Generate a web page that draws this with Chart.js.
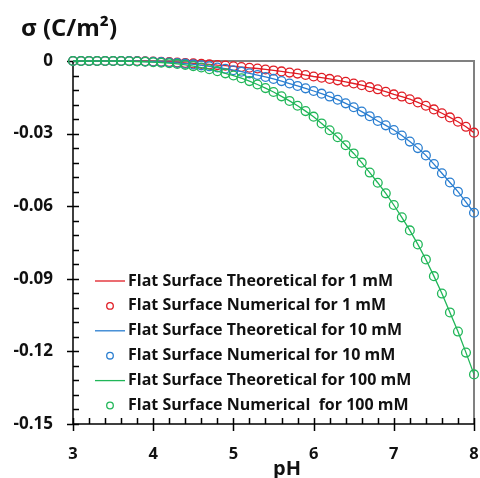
<!DOCTYPE html>
<html>
<head>
<meta charset="utf-8">
<script src="https://cdn.jsdelivr.net/npm/chart.js@4.4.0/dist/chart.umd.min.js"></script>
<style>
  html, body { margin: 0; padding: 0; background: #fff; }
</style>
</head>
<body>
<canvas id="sigmaChart" width="480" height="478"></canvas>
<script>
// pH values (x)
const pH = [
  3.0, 3.1, 3.2, 3.3, 3.4, 3.5, 3.6, 3.7, 3.8, 3.9,
  4.0, 4.1, 4.2, 4.3, 4.4, 4.5, 4.6, 4.7, 4.8, 4.9,
  5.0, 5.1, 5.2, 5.3, 5.4, 5.5, 5.6, 5.7, 5.8, 5.9,
  6.0, 6.1, 6.2, 6.3, 6.4, 6.5, 6.6, 6.7, 6.8, 6.9,
  7.0, 7.1, 7.2, 7.3, 7.4, 7.5, 7.6, 7.7, 7.8, 7.9,
  8.0
];

// surface charge density sigma (C/m2)
const sigma1mM = [
  0, 0, 0, 0, 0, 0, 0, 0, 0, -0.0001,
  -0.0002, -0.0003, -0.0004, -0.0006, -0.0008, -0.0010, -0.0012, -0.0014, -0.0017, -0.0019,
  -0.0022, -0.0025, -0.0028, -0.0031, -0.0035, -0.0039, -0.0043, -0.0048, -0.0052, -0.0058,
  -0.0064, -0.0069, -0.0074, -0.0080, -0.0086, -0.0093, -0.0100, -0.0108, -0.0117, -0.0127,
  -0.0138, -0.0147, -0.0158, -0.0171, -0.0185, -0.0200, -0.0216, -0.0233, -0.0251, -0.0272,
  -0.0296
];
const sigma10mM = [
  0, 0, 0, 0, 0, 0, 0, 0, -0.0001, -0.0002,
  -0.0003, -0.0004, -0.0006, -0.0008, -0.0011, -0.0014, -0.0018, -0.0022, -0.0027, -0.0032,
  -0.0038, -0.0044, -0.0051, -0.0058, -0.0066, -0.0074, -0.0083, -0.0093, -0.0103, -0.0113,
  -0.0124, -0.0135, -0.0147, -0.0160, -0.0175, -0.0191, -0.0209, -0.0228, -0.0248, -0.0266,
  -0.0285, -0.0308, -0.0333, -0.0360, -0.0390, -0.0426, -0.0464, -0.0502, -0.0540, -0.0583,
  -0.0627
];
const sigma100mM = [
  0, 0, 0, 0, 0, 0, 0, -0.0001, -0.0002, -0.0003,
  -0.0005, -0.0007, -0.0009, -0.0012, -0.0016, -0.0021, -0.0027, -0.0034, -0.0042, -0.0051,
  -0.0060, -0.0071, -0.0083, -0.0097, -0.0112, -0.0128, -0.0146, -0.0165, -0.0185, -0.0207,
  -0.0230, -0.0258, -0.0286, -0.0315, -0.0348, -0.0382, -0.0420, -0.0461, -0.0503, -0.0547,
  -0.0595, -0.0646, -0.0700, -0.0758, -0.0820, -0.0889, -0.0961, -0.1039, -0.1118, -0.1205,
  -0.1295
];

const xTicks = [3, 4, 5, 6, 7, 8];
const yTicks = [0, -0.03, -0.06, -0.09, -0.12, -0.15];

const seriesLabels = [
  'Flat Surface Theoretical for 1 mM',
  'Flat Surface Numerical for 1 mM',
  'Flat Surface Theoretical for 10 mM',
  'Flat Surface Numerical for 10 mM',
  'Flat Surface Theoretical for 100 mM',
  'Flat Surface Numerical  for 100 mM'
];

const RED = '#e01c24';
const BLUE = '#2a7ed0';
const GREEN = '#20b658';
const FONT = '"Open Sans", Lato, sans-serif';

function pts(values) {
  return pH.map((x, i) => ({ x: x, y: values[i] }));
}

function lineSet(label, values, color, order) {
  return {
    label: label, data: pts(values), showLine: true,
    borderColor: color, borderWidth: 1.3, pointRadius: 0,
    tension: 0, clip: false, order: order
  };
}

function dotSet(label, values, color, order) {
  return {
    label: label, data: pts(values), showLine: false,
    borderColor: color, backgroundColor: 'rgba(0,0,0,0)',
    pointRadius: 4.4, pointBorderWidth: 1.3, pointHoverRadius: 4.4,
    clip: false, order: order
  };
}

// axes, frame and minor ticks
const frame = {
  id: 'frame',
  beforeDatasetsDraw(chart) {
    const { ctx, chartArea: a, scales: { x, y } } = chart;
    ctx.save();
    ctx.strokeStyle = '#808080';
    ctx.lineWidth = 2;
    ctx.beginPath();
    ctx.moveTo(a.left, a.top);
    ctx.lineTo(a.right, a.top);
    ctx.lineTo(a.right, a.bottom);
    ctx.stroke();

    ctx.strokeStyle = '#000';
    ctx.lineWidth = 1.5;
    ctx.beginPath();
    ctx.moveTo(a.left, a.top);
    ctx.lineTo(a.left, a.bottom);
    ctx.lineTo(a.right, a.bottom);
    ctx.stroke();

    ctx.beginPath();
    for (let k = 0; k <= 25; k++) {
      const py = Math.round(y.getPixelForValue(-0.15 + k * 0.006)) + 0.5;
      const major = k % 5 === 0;
      ctx.moveTo(a.left - (major ? 6 : 0), py);
      ctx.lineTo(a.left + 6, py);
    }
    for (let k = 0; k <= 25; k++) {
      const px = Math.round(x.getPixelForValue(3 + k * 0.2)) + 0.5;
      const major = k % 5 === 0;
      ctx.moveTo(px, a.bottom - 6);
      ctx.lineTo(px, a.bottom + (major ? 7 : 0));
    }
    ctx.stroke();
    ctx.restore();
  },
  afterDraw(chart) {
    const { ctx } = chart;
    ctx.save();
    ctx.fillStyle = '#111';
    ctx.textBaseline = 'alphabetic';
    ctx.font = 'bold 24px ' + FONT;
    ctx.fillText('\u03c3 (C/m\u00b2)', 21, 36);
    ctx.font = 'bold 20px ' + FONT;
    ctx.textAlign = 'center';
    ctx.fillText('pH', 287, 475);

    // legend
    ctx.textAlign = 'left';
    ctx.textBaseline = 'middle';
    ctx.font = 'bold 16px ' + FONT;
    chart.data.datasets.forEach((ds, i) => {
      const ry = 281 + i * 24.9;
      ctx.strokeStyle = ds.borderColor;
      ctx.lineWidth = 1.3;
      ctx.beginPath();
      if (ds.showLine) {
        ctx.moveTo(95, ry);
        ctx.lineTo(125, ry);
      } else {
        ctx.arc(110, ry, 3.3, 0, Math.PI * 2);
      }
      ctx.stroke();
      ctx.fillStyle = '#111';
      ctx.fillText(ds.label, 128, ry);
    });
    ctx.restore();
  }
};

new Chart(document.getElementById('sigmaChart'), {
  type: 'scatter',
  data: {
    datasets: [
      lineSet(seriesLabels[0], sigma1mM, RED, 6),
      dotSet(seriesLabels[1], sigma1mM, RED, 5),
      lineSet(seriesLabels[2], sigma10mM, BLUE, 4),
      dotSet(seriesLabels[3], sigma10mM, BLUE, 3),
      lineSet(seriesLabels[4], sigma100mM, GREEN, 2),
      dotSet(seriesLabels[5], sigma100mM, GREEN, 1)
    ]
  },
  options: {
    responsive: false,
    animation: false,
    events: [],
    layout: { padding: { left: 0, top: 61, right: 6, bottom: 0 } },
    plugins: { legend: { display: false }, tooltip: { enabled: false } },
    scales: {
      x: {
        type: 'linear', min: 3, max: 8,
        afterFit: s => { s.height = 54; s.paddingLeft = 0; s.paddingRight = 0; },
        afterBuildTicks: s => { s.ticks = xTicks.map(v => ({ value: v })); },
        grid: { display: false, drawTicks: false },
        border: { display: false },
        ticks: { padding: 20, color: '#111', font: { family: FONT, size: 16.5, weight: 'bold' } }
      },
      y: {
        type: 'linear', min: -0.15, max: 0,
        afterFit: s => { s.width = 73; s.paddingTop = 0; s.paddingBottom = 0; },
        afterBuildTicks: s => { s.ticks = yTicks.map(v => ({ value: v })); },
        grid: { display: false, drawTicks: false },
        border: { display: false },
        ticks: {
          padding: 20, color: '#111',
          font: { family: FONT, size: 17, weight: 'bold' },
          callback: v => (v === 0 ? '0' : v.toFixed(2))
        }
      }
    }
  },
  plugins: [frame]
});
</script>
</body>
</html>
